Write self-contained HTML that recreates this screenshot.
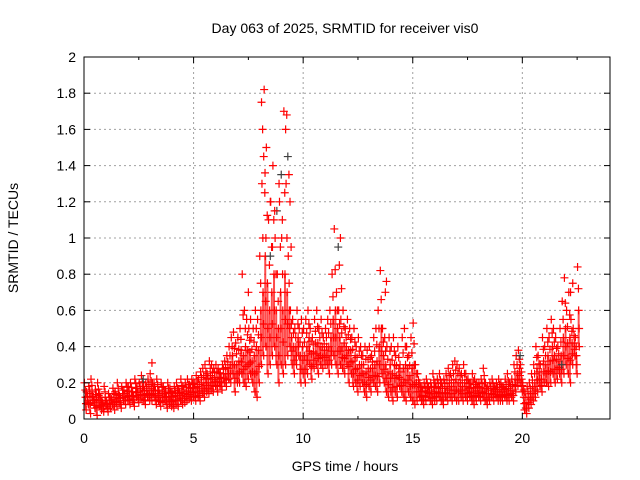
<!DOCTYPE html>
<html><head><meta charset="utf-8">
<style>
body{margin:0;background:#fff;}
svg{display:block;font-family:"Liberation Sans",sans-serif;}
</style></head>
<body>
<svg id="chart" width="640" height="480" viewBox="0 0 640 480">
<text x="345" y="33" font-size="14" text-anchor="middle" fill="#000">Day 063 of 2025, SRMTID for receiver vis0</text>
<text x="345" y="471" font-size="14" text-anchor="middle" fill="#000">GPS time / hours</text>
<text x="18" y="238" font-size="14" text-anchor="middle" fill="#000" transform="rotate(-90 18 238)">SRMTID / TECUs</text>
<g id="grid"></g><g id="marks"></g><g id="axes"></g>
</svg>
<script>
const xTicks=[0,5,10,15,20];
const yTicks=[0,0.2,0.4,0.6,0.8,1,1.2,1.4,1.6,1.8,2];
const yTickLabels=["0","0.2","0.4","0.6","0.8","1","1.2","1.4","1.6","1.8","2"];
const step=0.1;
const upper=[.2,.15,.18,.22,.12,.16,.2,.14,.1,.18,.1,.14,.12,.17,.15,.2,.13,.18,.16,.2,.18,.2,.15,.22,.17,.2,.24,.18,.2,.22,.25,.2,.18,.22,.16,.2,.18,.15,.2,.17,.15,.18,.2,.16,.22,.18,.2,.22,.19,.22,.2,.24,.22,.26,.28,.3,.25,.32,.3,.28,.3,.28,.25,.3,.32,.35,.4,.45,.48,.42,.45,.5,.8,.6,.55,.5,.45,.5,.6,.55,.9,1.3,1.82,1.5,1.1,1.2,1.4,1.0,.8,1.2,1.0,1.7,1.3,.9,.6,.55,.5,.6,.5,.55,.5,.55,.6,.5,.45,.55,.6,.5,.55,.45,.5,.55,.6,.8,1.05,.7,.6,.55,.6,.5,.55,.5,.45,.5,.4,.45,.4,.35,.4,.38,.4,.35,.45,.5,.6,.82,.5,.45,.4,.45,.4,.45,.35,.4,.3,.45,.5,.4,.35,.45,.53,.3,.25,.2,.18,.2,.22,.18,.2,.25,.2,.22,.25,.2,.22,.25,.28,.25,.3,.32,.3,.28,.25,.3,.25,.22,.2,.25,.22,.2,.2,.22,.28,.2,.18,.2,.22,.18,.2,.22,.2,.18,.22,.25,.2,.22,.3,.35,.38,.3,.2,.15,.18,.2,.25,.3,.4,.35,.3,.45,.4,.5,.45,.55,.5,.45,.4,.5,.65,.78,.6,.7,.55,.5,.45,.84];
const lower=[.05,.08,.03,.1,.06,.02,.07,.05,.04,.08,.04,.06,.08,.05,.07,.09,.06,.1,.08,.1,.08,.1,.07,.12,.09,.11,.1,.08,.12,.1,.1,.12,.08,.1,.07,.09,.1,.06,.08,.07,.06,.08,.07,.1,.08,.09,.1,.11,.1,.12,.1,.12,.1,.14,.12,.15,.14,.16,.15,.18,.15,.18,.16,.2,.18,.22,.2,.25,.15,.2,.2,.25,.2,.18,.22,.25,.2,.15,.12,.2,.3,.35,.4,.25,.3,.35,.4,.3,.2,.3,.25,.3,.35,.4,.3,.25,.3,.35,.2,.25,.2,.25,.3,.22,.28,.3,.25,.3,.28,.3,.3,.25,.3,.35,.3,.25,.3,.28,.25,.3,.2,.25,.18,.2,.15,.18,.2,.15,.12,.18,.15,.2,.18,.15,.2,.25,.2,.15,.12,.15,.1,.15,.12,.18,.15,.12,.1,.15,.12,.1,.08,.1,.12,.1,.08,.1,.12,.1,.08,.1,.1,.12,.1,.08,.12,.1,.12,.1,.12,.1,.1,.12,.1,.12,.1,.12,.1,.08,.1,.12,.1,.12,.1,.08,.1,.12,.1,.12,.1,.1,.1,.12,.1,.1,.12,.1,.15,.18,.2,.15,.05,.03,.06,.08,.1,.12,.15,.18,.15,.2,.2,.18,.2,.25,.2,.22,.25,.2,.25,.3,.25,.2,.3,.35,.25,.4];
const middle=[.12,.1,.14,.15,.09,.11,.13,.1,.08,.12,.07,.1,.1,.11,.12,.14,.1,.14,.12,.15,.13,.15,.11,.17,.13,.16,.17,.13,.16,.16,.17,.16,.13,.16,.12,.15,.14,.1,.14,.12,.1,.13,.14,.13,.15,.14,.15,.16,.15,.17,.15,.18,.16,.2,.2,.22,.2,.24,.22,.23,.22,.23,.2,.25,.25,.28,.3,.35,.3,.3,.32,.38,.35,.4,.38,.37,.32,.35,.4,.38,.6,.7,.9,.75,.6,.7,.8,.6,.5,.7,.6,.8,.7,.6,.45,.4,.4,.45,.35,.4,.35,.4,.45,.36,.37,.42,.42,.4,.4,.38,.4,.4,.45,.55,.6,.5,.45,.4,.42,.4,.38,.38,.32,.35,.28,.3,.3,.25,.26,.28,.28,.28,.3,.32,.4,.5,.35,.3,.26,.3,.25,.3,.24,.28,.22,.28,.3,.28,.24,.28,.3,.2,.18,.15,.13,.15,.17,.14,.15,.18,.15,.17,.18,.14,.17,.18,.2,.18,.2,.22,.2,.2,.18,.2,.18,.17,.15,.17,.16,.16,.15,.17,.2,.14,.14,.16,.17,.15,.15,.16,.15,.15,.16,.17,.16,.16,.22,.25,.28,.22,.12,.09,.12,.14,.18,.2,.28,.26,.22,.32,.3,.35,.32,.4,.35,.33,.32,.35,.45,.5,.42,.45,.42,.42,.35,.6];
const spikeTimes=[8.1,8.15,8.2,8.25,8.3,8.5,8.6,8.7,8.9,9.05,9.2,9.25,9.35,9.4,9.45,11.65,11.7,11.75,13.75,13.8,22.2,22.3,3.1,7.5,7.6];
const spikeValues=[1.75,1.6,1.45,1.25,1.0,1.2,0.95,1.15,1.3,1.1,1.6,1.68,1.35,1.2,0.95,0.85,1.0,0.72,0.7,0.76,0.7,0.75,0.31,0.7,0.55];
const grayTimes=[8.8,9.0,9.3,8.5,19.9,21.8,2.7,11.6];
const grayValues=[1.15,1.35,1.45,0.9,0.35,0.3,0.22,0.95];

const L=84,R=610,T=57,B=419,xMax=24,yMax=2;
const xs=v=>L+(R-L)*v/xMax;
const ys=v=>B-(B-T)*v/yMax;
const NS="http://www.w3.org/2000/svg";
const grid=document.getElementById('grid'),marks=document.getElementById('marks'),axes=document.getElementById('axes');
function mk(tag,attrs,parent){const e=document.createElementNS(NS,tag);for(const k in attrs)e.setAttribute(k,attrs[k]);parent.appendChild(e);return e;}

yTicks.forEach((v,i)=>{
  if(v>0&&v<yMax){const g=mk('line',{x1:L,x2:R,y1:ys(v),y2:ys(v),stroke:'#a0a0a0','stroke-dasharray':'2,3','stroke-width':1},grid);
  
  }
  const t=mk('text',{x:L-8,y:ys(v)+5,'font-size':14,'text-anchor':'end',fill:'#000'},axes);t.textContent=yTickLabels[i];
  
  
  mk('line',{x1:L,x2:L+6,y1:ys(v),y2:ys(v),stroke:'#000'},axes);
  mk('line',{x1:R,x2:R-6,y1:ys(v),y2:ys(v),stroke:'#000'},axes);
});
xTicks.forEach(v=>{
  if(v>0){const g=mk('line',{x1:xs(v),x2:xs(v),y1:T,y2:B,stroke:'#a0a0a0','stroke-dasharray':'2,3','stroke-width':1},grid);
  
  }
  const t=mk('text',{x:xs(v),y:B+24,'font-size':14,'text-anchor':'middle',fill:'#000'},axes);t.textContent=String(v);
  
  
  mk('line',{x1:xs(v),x2:xs(v),y1:B,y2:B-6,stroke:'#000'},axes);
  mk('line',{x1:xs(v),x2:xs(v),y1:T,y2:T+6,stroke:'#000'},axes);
  mk('line',{x1:xs(v+2.5),x2:xs(v+2.5),y1:B,y2:B-3,stroke:'#000'},axes);
  mk('line',{x1:xs(v+2.5),x2:xs(v+2.5),y1:T,y2:T+3,stroke:'#000'},axes);
});
const frame=mk('rect',{x:L,y:T,width:R-L,height:B-T,fill:'none',stroke:'#000','stroke-width':1},axes);



function cross(x,y,color,name){
  const p=mk('path',{d:`M${x-4} ${y}h8M${x} ${y-4}v8`,stroke:color,'stroke-width':1.2,fill:'none'},marks);
  
  
}
upper.forEach((u,i)=>{
  const t=i*step+0.02;
  const lo=lower[i],mi=middle[i];
  const ln=mk('line',{x1:xs(t+0.05),x2:xs(t+0.05),y1:ys(mi),y2:ys(lo),stroke:'#ff0000','stroke-width':2,opacity:0.7},marks);
  
  
  cross(xs(t),ys(u),'#ff0000','upper-point');
  cross(xs(t+0.05),ys(mi),'#ff0000','middle-point');
  cross(xs(t+0.08),ys(lo),'#ff0000','lower-point');
  cross(xs(t+0.04),ys((u+mi)/2),'#ff0000','point');
  cross(xs(t+0.07),ys((mi+lo)/2),'#ff0000','point');
});
grayTimes.forEach((t,i)=>cross(xs(t),ys(grayValues[i]),'#404040','gray-point'));
spikeTimes.forEach((t,i)=>cross(xs(t),ys(spikeValues[i]),'#ff0000','spike-point'));
</script>
</body></html>
